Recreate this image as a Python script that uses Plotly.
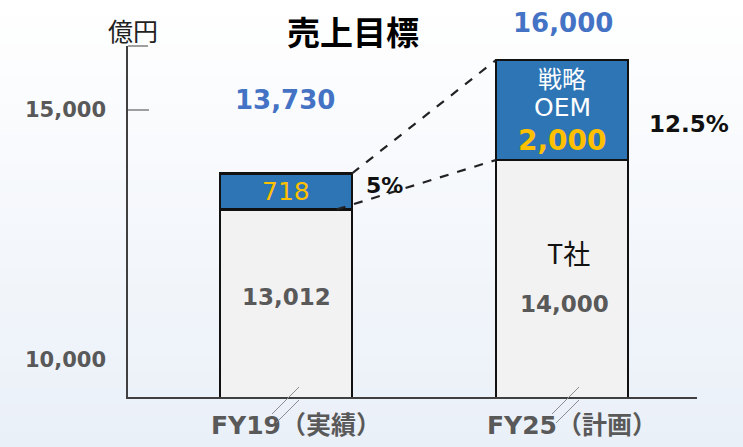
import plotly.graph_objects as go

# ---------------- data ----------------
categories = ["FY19（実績）", "FY25（計画）"]
base_values = [13012, 14000]          # 既存（T社）
oem_values = [718, 2000]              # 戦略OEM
share_labels = ["5%", "12.5%"]
y_tick_values = [10000, 15000]
y_tick_text = ["10,000", "15,000"]
totals = [b + o for b, o in zip(base_values, oem_values)]

# ---------------- geometry helpers (layout only) ----------------
W, H = 743, 447
L, R, T, B = 128, 697, 46, 397          # plot area in pixels
X0_PX, X_STEP = 286, 276                # category 0 centre / spacing
BAR_W = 0.478
Y_RANGE = [9260, 16280]

def xpx(p):      # pixel -> x data unit
    return (p - X0_PX) / X_STEP

def ypp(p):      # pixel -> paper y
    return (B - p) / (B - T)

def xpp(p):      # pixel -> paper x
    return (p - L) / (R - L)

xs = list(range(len(categories)))

GRAY_TXT = "#595959"
BLUE_TXT = "#4472c4"
GOLD = "#ffc000"
FONT = "DejaVu Sans, Noto Sans CJK JP, sans-serif"
JP = "Noto Sans CJK JP, sans-serif"

fig = go.Figure()
fig.add_trace(go.Bar(x=xs, y=base_values, width=BAR_W,
                     marker=dict(color="#f2f2f2", line=dict(color="#111111", width=2.5)),
                     hoverinfo="skip"))
fig.add_trace(go.Bar(x=xs, y=oem_values, width=BAR_W,
                     marker=dict(color="#2e75b6", line=dict(color="#111111", width=2.5)),
                     hoverinfo="skip"))

# dashed connector lines between the two bars
fig.add_trace(go.Scatter(x=[xs[0] + BAR_W / 2, xs[1] - BAR_W / 2], y=[totals[0], totals[1]],
                         mode="lines", line=dict(color="#222222", width=2.2, dash="dash"),
                         hoverinfo="skip"))
fig.add_trace(go.Scatter(x=[xs[0] + BAR_W / 2 - 0.055, xs[1] - BAR_W / 2], y=[base_values[0], base_values[1]],
                         mode="lines", line=dict(color="#222222", width=2.2, dash="dash"),
                         hoverinfo="skip"))

shapes = []
# gradient background
N = 30
top_c = (255, 255, 255)
bot_c = (234, 240, 248)
for i in range(N):
    t = (i + 0.5) / N
    c = tuple(round(top_c[k] + (bot_c[k] - top_c[k]) * t) for k in range(3))
    py0 = i * H / N
    py1 = (i + 1) * H / N + 1
    shapes.append(dict(type="rect", xref="paper", yref="paper", layer="below",
                       x0=xpp(0), x1=xpp(W), y0=ypp(py1), y1=ypp(py0),
                       line=dict(width=0), fillcolor="rgb(%d,%d,%d)" % c))

# axis tick marks (inside)
shapes.append(dict(type="line", xref="paper", yref="y", x0=0, x1=xpp(L + 21),
                   y0=y_tick_values[1], y1=y_tick_values[1], line=dict(color="#7f7f7f", width=1.5)))
shapes.append(dict(type="line", xref="paper", yref="paper", x0=0, x1=xpp(L + 20),
                   y0=1, y1=1, line=dict(color="#7f7f7f", width=1.5)))

# axis break marks under each bar
for i, off in zip(xs, [0, 4]):
    c = X0_PX + X_STEP * i + off
    for (ax, ay, bx, by) in [(-14, 414, 13, 387), (-10, 423, 13, 400)]:
        shapes.append(dict(type="line", xref="x", yref="paper",
                           x0=xpx(c + ax), x1=xpx(c + bx), y0=ypp(ay), y1=ypp(by),
                           line=dict(color="#8c8c8c", width=1)))

ann = []
def add(text, x, y, size, color, bold=False, family=FONT, xref="x"):
    ann.append(dict(text=("<b>%s</b>" % text) if bold else text, x=x, y=y,
                    xref=xref, yref="paper", showarrow=False, borderpad=0,
                    xanchor="center", yanchor="middle",
                    font=dict(size=size, color=color, family=family)))

add("億円", xpp(133), ypp(30), 25, "#222222", family=JP, xref="paper")
add("売上目標", xpp(353), ypp(31), 33, "#000000", bold=True, family=JP, xref="paper")

# totals
add(f"{totals[0]:,}", xpx(285), ypp(100), 26, BLUE_TXT, bold=True)
add(f"{totals[1]:,}", xpx(563), ypp(23), 26, BLUE_TXT, bold=True)

# FY19 segments
add(f"{oem_values[0]:,}", xpx(286), ypp(191), 25, GOLD)
add(f"{base_values[0]:,}", xpx(286), ypp(297), 23, GRAY_TXT, bold=True)
add(share_labels[0], xpx(384), ypp(186), 22, "#111111", bold=True)

# FY25 segments
add("戦略", xpx(562), ypp(77), 24, "#ffffff", family=JP)
add("OEM", xpx(562), ypp(108), 25, "#ffffff", family="DejaVu Sans, sans-serif")
add(f"{oem_values[1]:,}", xpx(562), ypp(140), 28, GOLD, bold=True)
add("T社", xpx(568), ypp(252), 27, "#111111", family=JP)
add(f"{base_values[1]:,}", xpx(564), ypp(304), 23, GRAY_TXT, bold=True)
add(share_labels[1], xpx(689), ypp(124), 23, "#111111", bold=True)

fig.update_layout(
    width=W, height=H, autosize=False,
    margin=dict(l=L, r=W - R, t=T, b=H - B, pad=0, autoexpand=False),
    barmode="stack", showlegend=False,
    paper_bgcolor="#ffffff", plot_bgcolor="rgba(0,0,0,0)",
    shapes=shapes, annotations=ann,
    xaxis=dict(range=[xpx(L), xpx(R)], tickvals=xs, ticktext=categories,
               showline=True, linecolor="#404040", linewidth=1.5, showgrid=False,
               zeroline=False, ticks="", ticklabelstandoff=5, ticklabelshift=10,
               automargin=False,
               tickfont=dict(size=25, color=GRAY_TXT, family=FONT, weight="bold")),
    yaxis=dict(range=Y_RANGE, tickvals=y_tick_values, ticktext=y_tick_text,
               showline=True, linecolor="#404040", linewidth=1.5, showgrid=False,
               zeroline=False, ticks="", ticklabelstandoff=16, automargin=False,
               tickfont=dict(size=21, color=GRAY_TXT, family=FONT, weight="bold")),
)

fig.write_html("out.html", config={"displayModeBar": False},
               post_script="document.body.style.margin='0';document.body.style.overflow='hidden';")
